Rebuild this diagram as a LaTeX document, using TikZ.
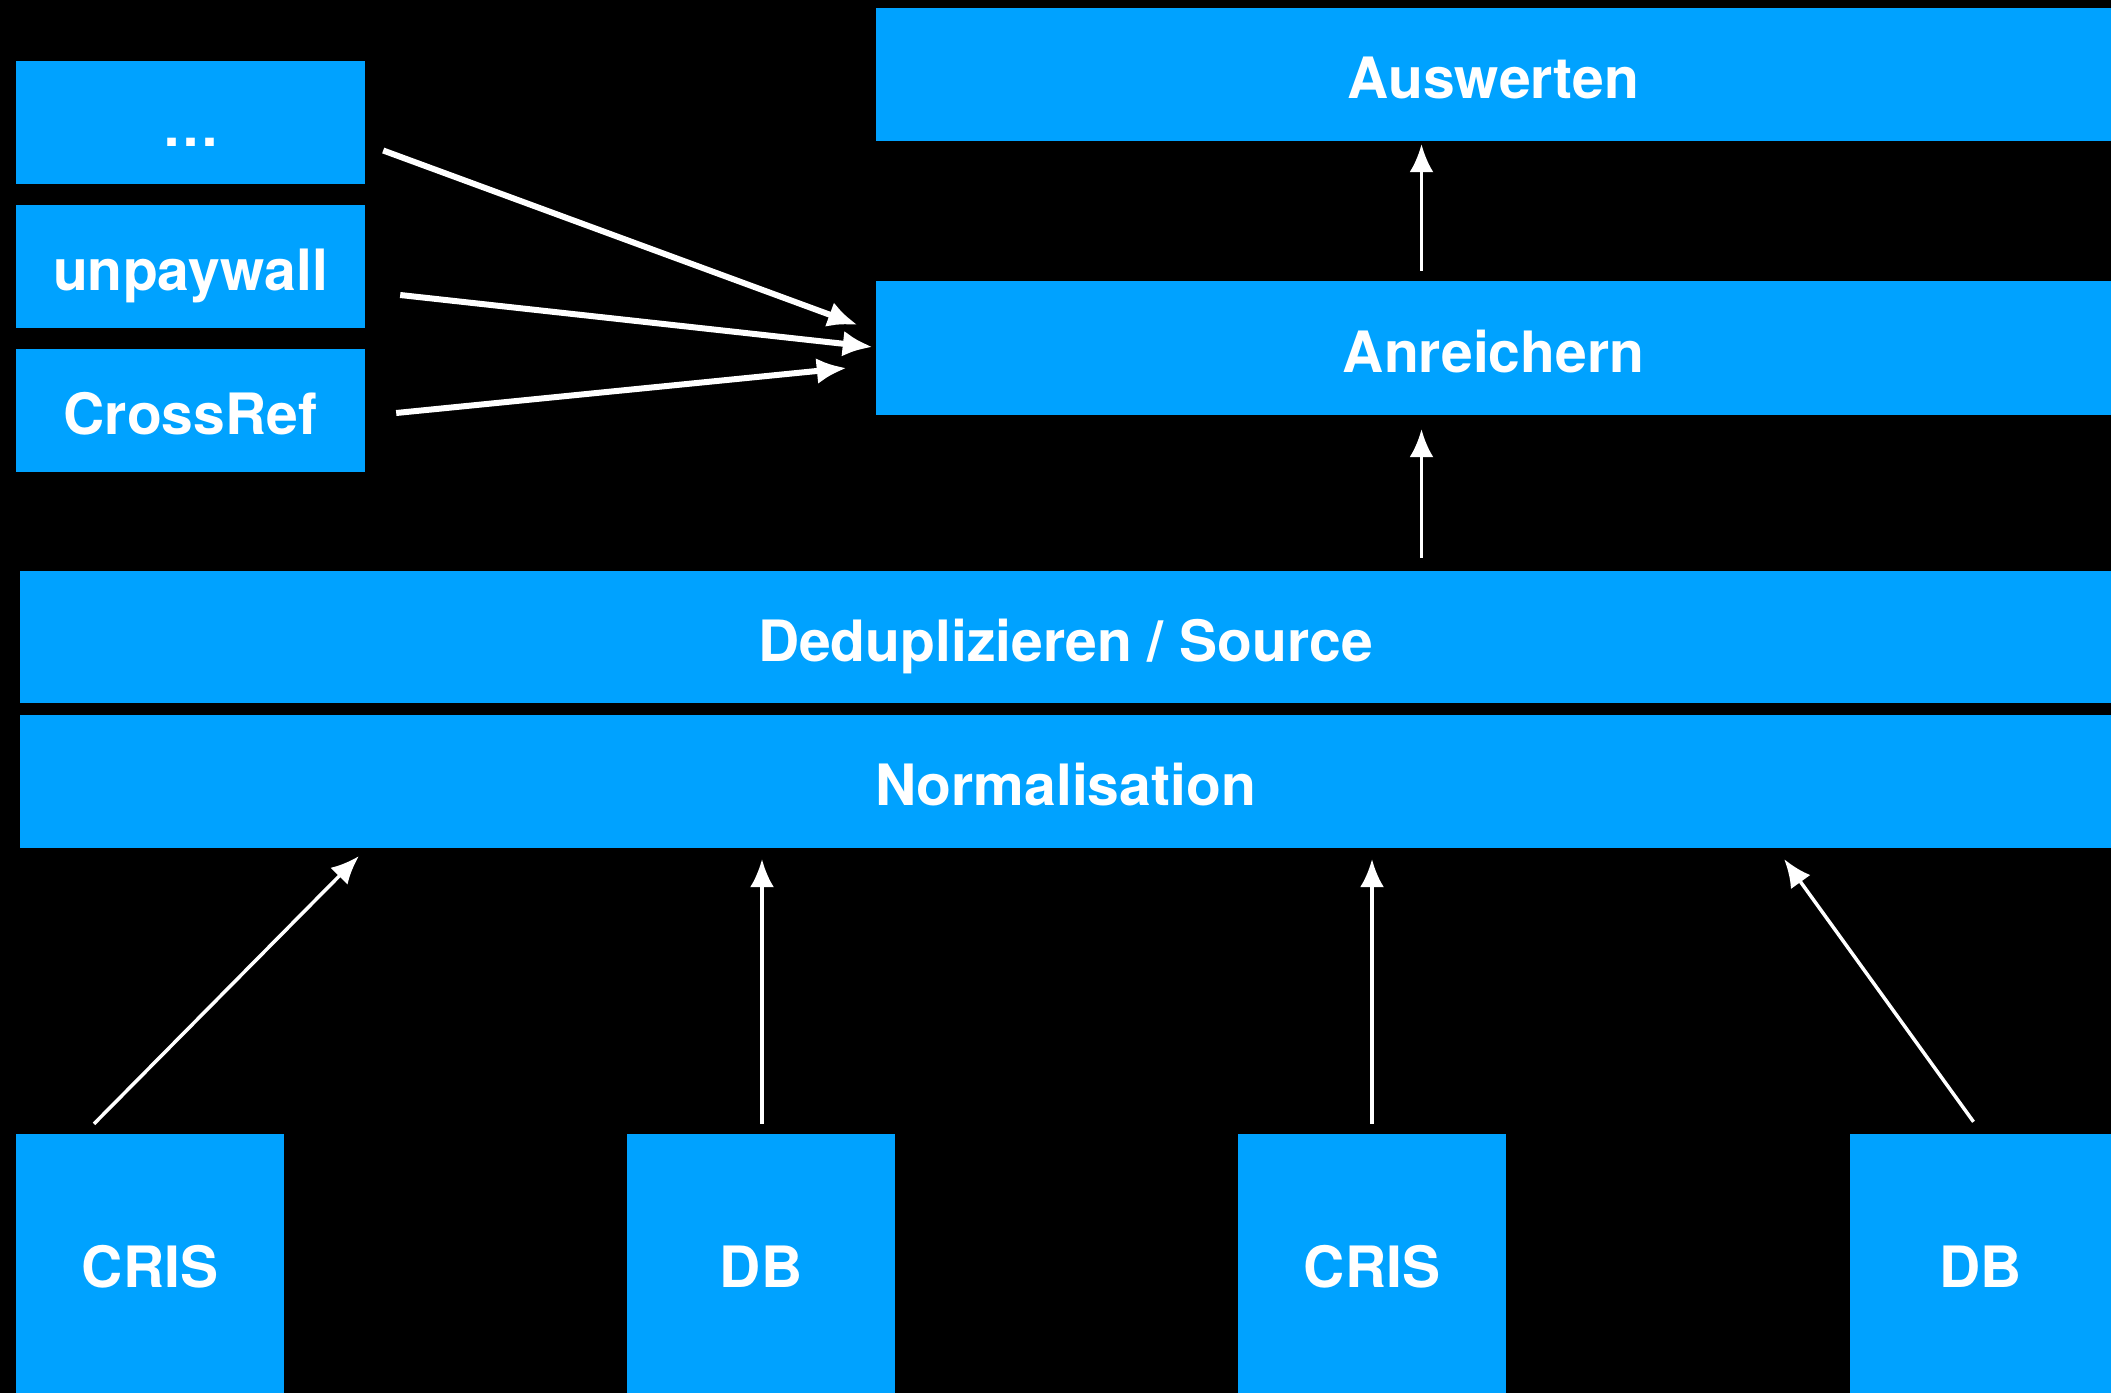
\documentclass[tikz,border=0pt]{standalone}
\usepackage{fontspec}
\setmainfont{TeX Gyre Heros}
\usetikzlibrary{arrows.meta,calc}
\definecolor{kblue}{RGB}{0,162,255}
\tikzset{
	box/.style={fill=kblue,text=white,inner sep=0pt,text height=48pt,text depth=0pt,font=\fontsize{57}{60}\selectfont\bfseries},
	thickarr/.style={-{Latex[length=30pt,width=26pt]},white,line width=6pt},
	thinarr/.style={->,white,line width=3.5pt}
}
\begin{document}
\begin{tikzpicture}[x=1pt,y=-1pt,line join=round,>={Latex[length=28pt,width=24pt]}]
	\useasboundingbox (0,0) rectangle (2111,1393);
	\fill[black] (0,0) rectangle (2111,1393);
	% externe Quellen
	\node[box,minimum width=349pt,minimum height=123pt] (dots) at (190.5,122.5) {…};
	\node[box,minimum width=349pt,minimum height=123pt] (unp) at (190.5,266) {unpaywall};
	\node[box,minimum width=349pt,minimum height=123pt] (cross) at (190.5,410) {CrossRef};
	% Schichten
	\node[box,minimum width=1235pt,minimum height=133pt] (ausw) at (1493.5,74.5) {Auswerten};
	\node[box,minimum width=1235pt,minimum height=134pt] (anr) at (1493.5,348) {Anreichern};
	\node[box,minimum width=2091pt,minimum height=132pt] (dedup) at (1065.5,637) {Deduplizieren / Source};
	\node[box,minimum width=2091pt,minimum height=133pt] (norm) at (1065.5,781.5) {Normalisation};
	% Datenquellen unten
	\node[box,minimum width=268pt,minimum height=259pt] (cris1) at (150,1263.5) {CRIS};
	\node[box,minimum width=268pt,minimum height=259pt] (db1) at (761,1263.5) {DB};
	\node[box,minimum width=268pt,minimum height=259pt] (cris2) at (1372,1263.5) {CRIS};
	\node[box,minimum width=261pt,minimum height=259pt] (db2) at (1980.5,1263.5) {DB};
	% Pfeile
	\draw[thickarr] ($(dots.east)+(18,28)$) -- ($(anr.west)+(-18,-23)$);
	\draw[thickarr] ($(unp.east)+(35,29)$) -- ($(anr.west)+(-3,-1)$);
	\draw[thickarr] ($(cross.east)+(31,3)$) -- ($(anr.west)+(-29,20)$);
	\draw[thinarr] ($(anr.north)+(-72,-10)$) -- ($(ausw.south)+(-72,3)$);
	\draw[thinarr] ($(anr.south |- dedup.north)+(-72,-13)$) -- ($(anr.south)+(-72,14)$);
	\draw[thinarr] ($(cris1.north)+(-56,-10)$) -- ($(norm.south west)+(339,8)$);
	\draw[thinarr] ($(db1.north)+(1,-10)$) -- ($(db1.north |- norm.south)+(1,11)$);
	\draw[thinarr] ($(cris2.north)+(0,-10)$) -- ($(cris2.north |- norm.south)+(0,11)$);
	\draw[thinarr] ($(db2.north)+(-7,-12)$) -- ($(norm.south east)+(-327,11)$);
\end{tikzpicture}
\end{document}
